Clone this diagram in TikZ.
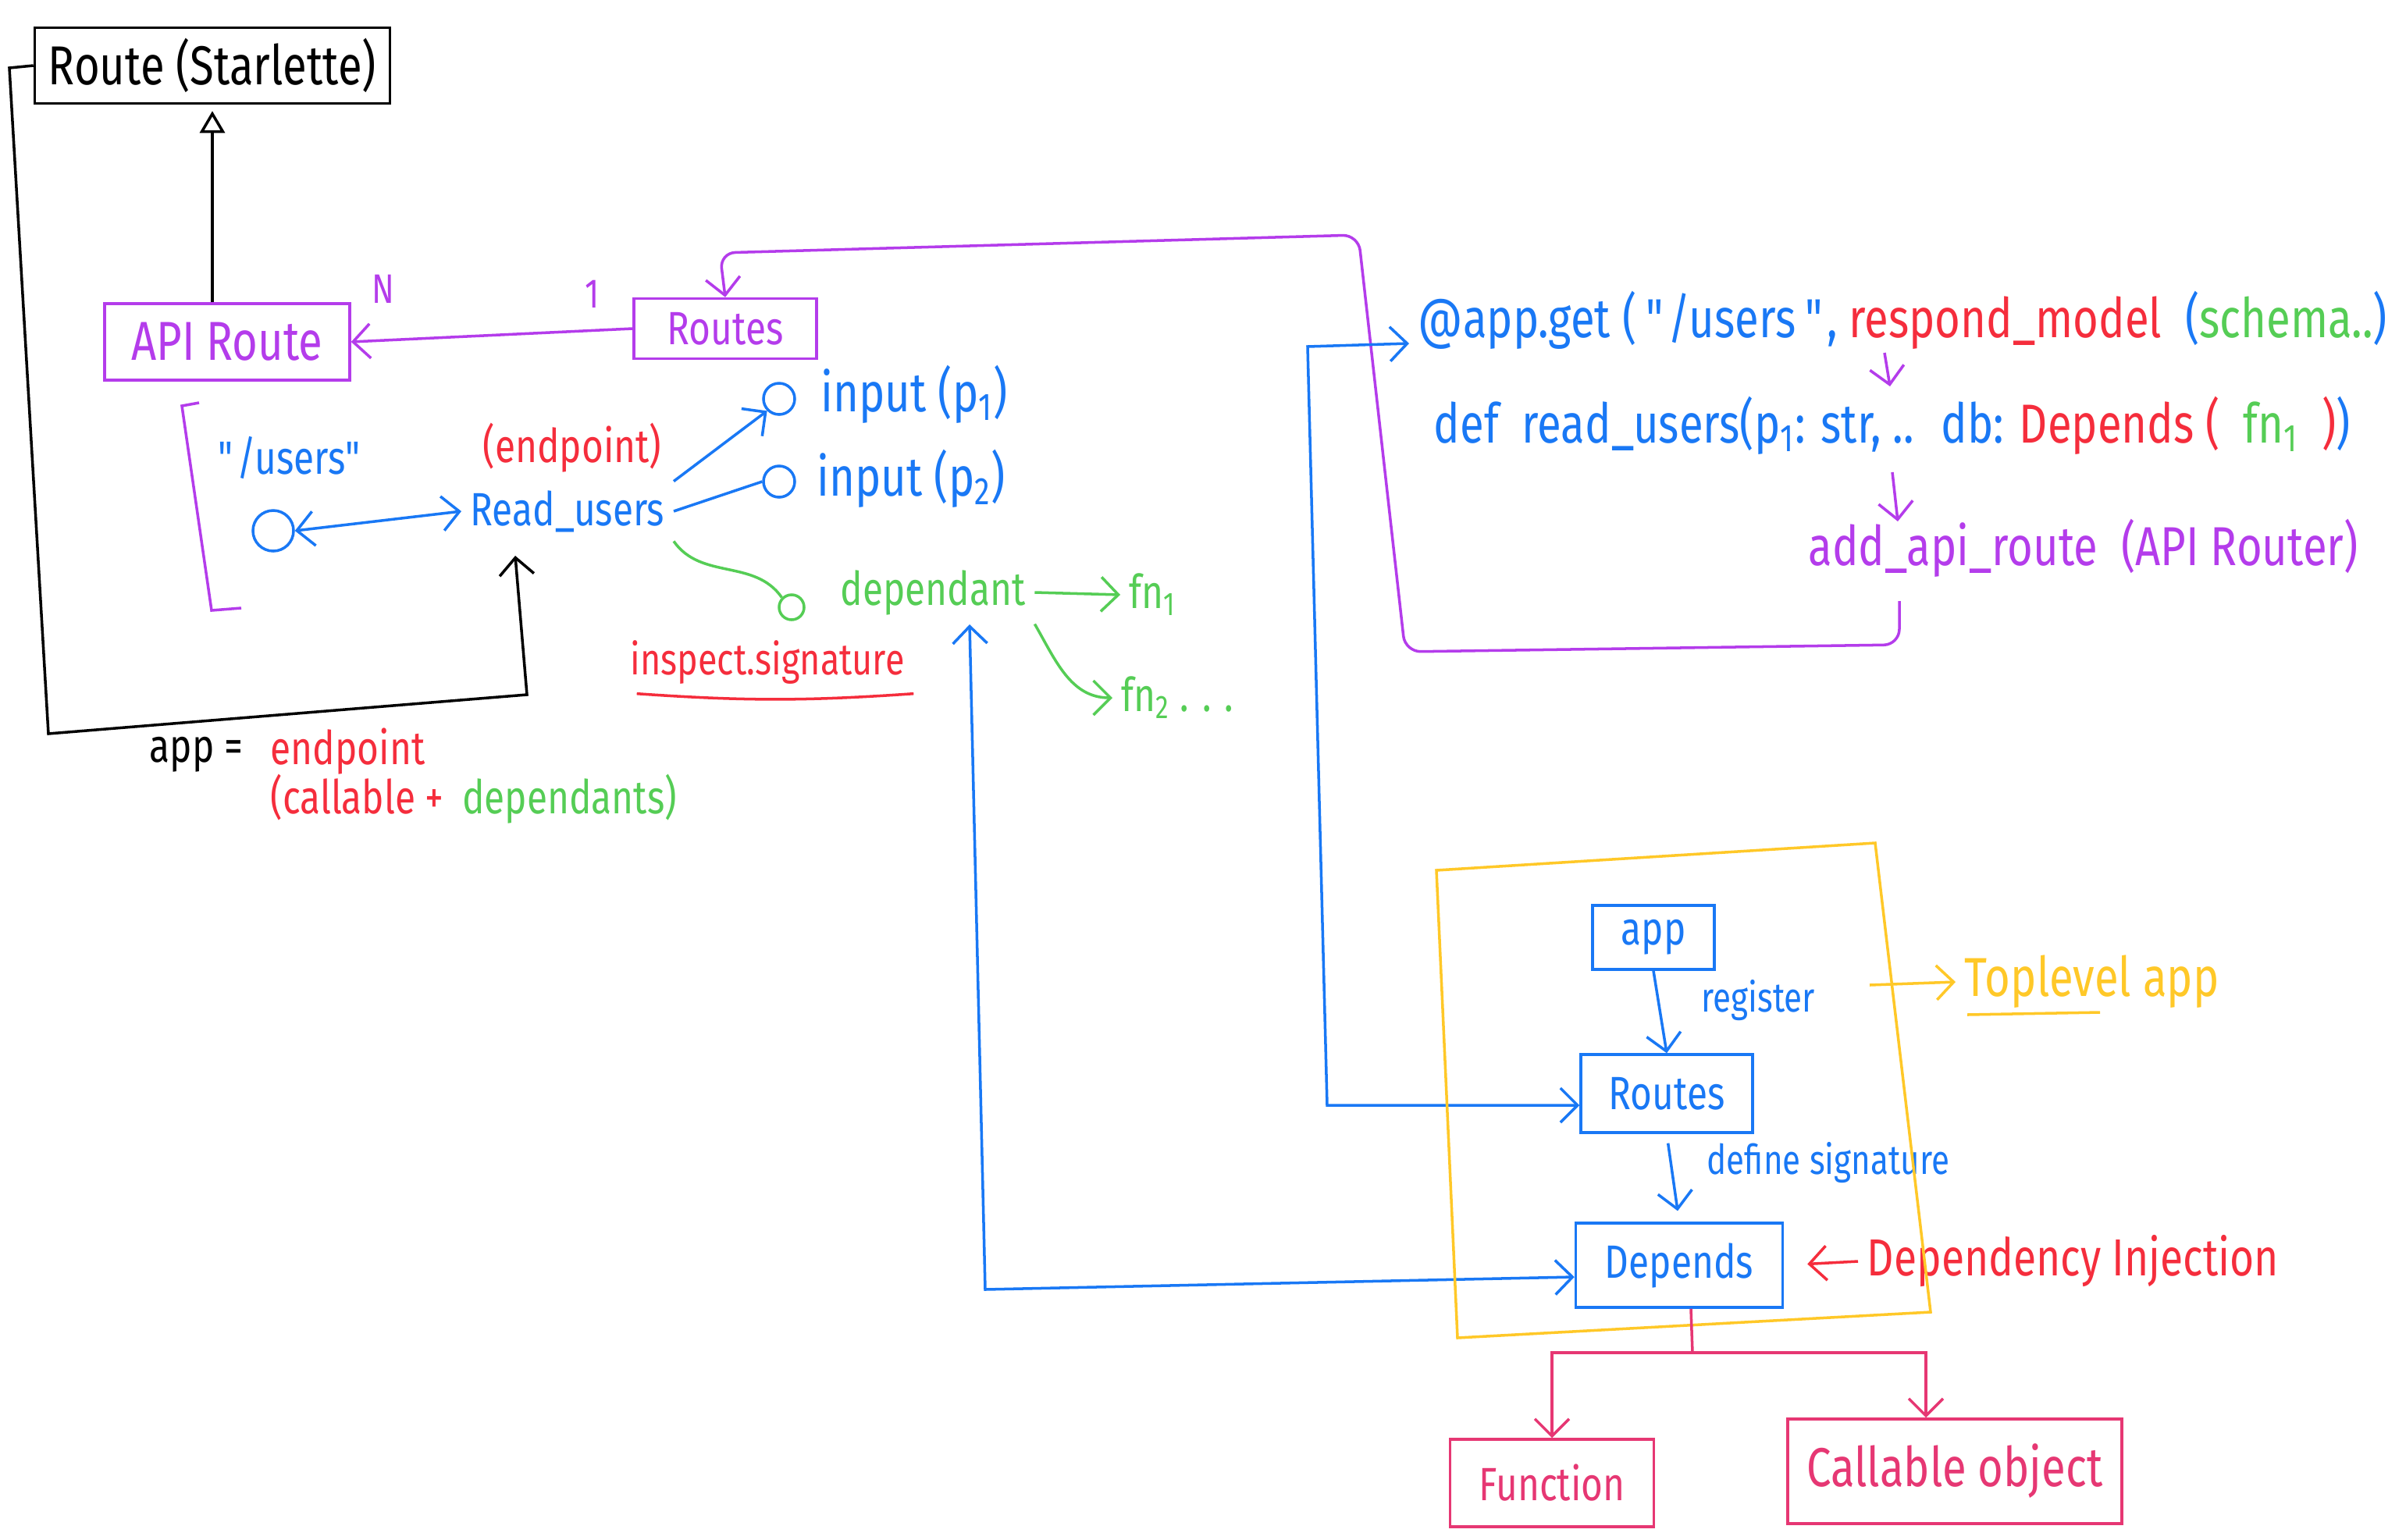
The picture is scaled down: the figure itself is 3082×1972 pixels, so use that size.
\documentclass[tikz,border=0pt]{standalone}
\usepackage{fontspec}
\setmainfont[FakeStretch=0.8]{Fira Sans}
\usetikzlibrary{arrows.meta}
\definecolor{cpurple}{RGB}{180,60,235}
\definecolor{cblue}{RGB}{25,120,245}
\definecolor{cred}{RGB}{245,45,60}
\definecolor{cgreen}{RGB}{85,205,85}
\definecolor{cyellow}{RGB}{255,200,40}
\definecolor{cpink}{RGB}{230,55,115}
\begin{document}
    \begin{tikzpicture}[
        x=0.1mm, y=-0.1mm,
        line width=1pt,
        >={Straight Barb[length=2.2mm,width=4.4mm]},
        hand/.style={font=\fontsize{17}{20}\selectfont, inner sep=1mm},
        big hand/.style={font=\fontsize{20}{24}\selectfont, inner sep=1mm},
        small hand/.style={font=\fontsize{15}{18}\selectfont, inner sep=1mm},
        box/.style={draw, rectangle, hand},
        ring/.style={draw, circle, inner sep=0pt}
    ]
        \fill[white] (0,0) rectangle (3082,1972);
        \useasboundingbox (0,0) rectangle (3082,1972);

        % Starlette va cac lop route
        \node[box, big hand, minimum width=45.5mm, minimum height=9.7mm] (route) at (272,84) {Route (Starlette)};
        \node[box, big hand, cpurple, minimum width=31.4mm, minimum height=9.8mm] (apiroute) at (291,438) {API Route};
        \node[box, cpurple, minimum width=23.4mm, minimum height=7.7mm] (routes) at (929,421) {Routes};
        \node[small hand, cpurple] (many) at (491,370) {N};
        \node[small hand, cpurple] (one) at (759,377) {1};

        % endpoint
        \node[hand, cblue] (users) at (373,586) {\textquotedbl/users\textquotedbl};
        \node[hand, cred] (endpoint) at (733,574) {(endpoint)};
        \node[ring, cblue, minimum size=5.2mm] (pathdot) at (350,680) {};
        \node[hand, cblue] (readusers) at (727,655) {Read\_users};
        \node[ring, cblue, minimum size=4mm] (in1) at (998,511) {};
        \node[big hand, cblue, anchor=west] (in1txt) at (1040,505) {input (p\textsubscript{1})};
        \node[ring, cblue, minimum size=4mm] (in2) at (998,617) {};
        \node[big hand, cblue, anchor=west] (in2txt) at (1035,613) {input (p\textsubscript{2})};
        \node[ring, cgreen, minimum size=3.2mm] (dep) at (1014,778) {};
        \node[hand, cgreen, anchor=west] (deptxt) at (1065,759) {dependant};
        \node[hand, cgreen, anchor=west] (fn1) at (1435,762) {fn\textsubscript{1}};
        \node[hand, cgreen, anchor=west] (fn2) at (1425,894) {fn\textsubscript{2} . . .};
        \node[font=\fontsize{16}{19}\selectfont, inner sep=1mm, cred] (inspect) at (983,849) {inspect.signature};
        \node[hand, anchor=west] (appeq) at (180,967) {app =};
        \node[hand, cred, anchor=west] (endp) at (335,963) {endpoint};
        \node[hand, cred, anchor=west] (callable) at (335,1022) {(callable +};
        \node[hand, cgreen, anchor=base west, inner sep=0pt] (deps) at ([xshift=1mm]callable.base east) {dependants)};

        % code
        \node[big hand, cblue, anchor=west] (getline) at (1805,410) {@app.get (\,\textquotedbl/users\,\textquotedbl, \textcolor{cred}{respond\_model} \ (\textcolor{cgreen}{schema..})};
        \node[big hand, cblue, anchor=west] (defline) at (1825,545) {def \ read\_users(p\textsubscript{1}: str, .. \ db: \textcolor{cred}{Depends (} \ \textcolor{cgreen}{fn\textsubscript{1}} \ \textcolor{cred}{)})};
        \node[big hand, cpurple, anchor=west] (addroute) at (2305,702) {add\_api\_route \ (API Router)};
        \coordinate (s1) at (2414,452);
        \coordinate (s2) at (2421,495);
        \coordinate (s3) at (2424,605);
        \coordinate (s4) at (2431,668);
        \coordinate (addfoot) at (2433,770);

        % app, Routes, Depends
        \node[box, cblue, minimum width=15.6mm, minimum height=8.2mm] (app) at (2118,1201) {app};
        \node[box, cblue, minimum width=22mm, minimum height=10mm] (routesb) at (2135,1401) {Routes};
        \node[box, cblue, minimum width=26.5mm, minimum height=10.8mm] (depends) at (2151,1621) {Depends};
        \node[box, cpink, minimum width=26.1mm, minimum height=11.2mm] (function) at (1988,1900) {Function};
        \node[box, big hand, cpink, minimum width=42.8mm, minimum height=13.4mm] (callobj) at (2504,1885) {Callable object};
        \node[small hand, cblue, anchor=west] (register) at (2168,1282) {register};
        \node[small hand, cblue, anchor=west] (definesig) at (2175,1490) {define signature};
        \node[big hand, cyellow, anchor=west] (toplevel) at (2505,1258) {Toplevel app};
        \node[font=\fontsize{19}{23}\selectfont, inner sep=1mm, cred, anchor=west] (di) at (2380,1616) {Dependency Injection};
        \coordinate (tlstart) at (2395,1262);
        \coordinate (fork) at (2168,1733);
        \coordinate (ruin) at (660,712);
        \coordinate (depfoot) at (1242,800);

        % duong noi
        \draw[-{Triangle[open,length=2.8mm,width=3.2mm]}] (apiroute.north -| route.south) -- ([yshift=-0.8mm]route.south);
        \draw[->] (route.west) -- (12,87) -- (62,940) -- (675,890) -- (ruin);
        \draw[cpurple, ->] (routes.west) -- (apiroute.east);
        \draw[cpurple] (255,516) -- (233,520) -- (271,782) -- (309,779);
        \draw[cblue, <->] (pathdot.east) -- (readusers.west);
        \draw[cblue, ->] (readusers.north east) -- (in1.south west);
        \draw[cblue] (readusers.east) -- (in2.west);
        \draw[cgreen] (readusers.south east) to[out=-55, in=125] (dep.north west);
        \draw[cgreen, ->] (deptxt.east) -- (fn1.west);
        \draw[cgreen, ->] (deptxt.south east) to[out=-60, in=180] (fn2.west);
        \draw[cred] ([xshift=2mm]inspect.south west) to[bend right=4] (inspect.south east);
        \draw[cpurple, ->] (s1) -- (s2);
        \draw[cpurple, ->] (s3) -- (s4);
        \draw[cpurple, ->, rounded corners=2mm] (addfoot) -- (2433,826) -- (1800,835) -- (1740,301) -- (922,324) -- (routes.north);
        \draw[cblue, <->] ([yshift=-3mm]getline.west) -- (1675,444) -- (1700,1416) -- ([yshift=-1.5mm]routesb.west);
        \draw[cblue, <->] (depfoot) -- (1262,1652) -- ([yshift=-1.5mm]depends.west);
        \draw[cblue, ->] (app.south) -- (routesb.north);
        \draw[cblue, ->, shorten <=1.2mm, shorten >=1.4mm] (routesb.south) -- (depends.north);
        \draw[cred, ->, shorten >=3mm] (di.west) -- (depends.east);
        \draw[cyellow] (1840,1115) -- (2402,1080) -- (2473,1681) -- (1867,1714) -- cycle;
        \draw[cyellow, ->] (tlstart) -- (toplevel.west);
        \draw[cyellow] (2520,1300) -- (2690,1297);
        \draw[cpink] ([xshift=1.5mm]depends.south) -- (fork);
        \draw[cpink, ->] (fork) -| (function.north);
        \draw[cpink, ->] (fork) -| ([xshift=-3.7mm]callobj.north);
    \end{tikzpicture}
\end{document}
